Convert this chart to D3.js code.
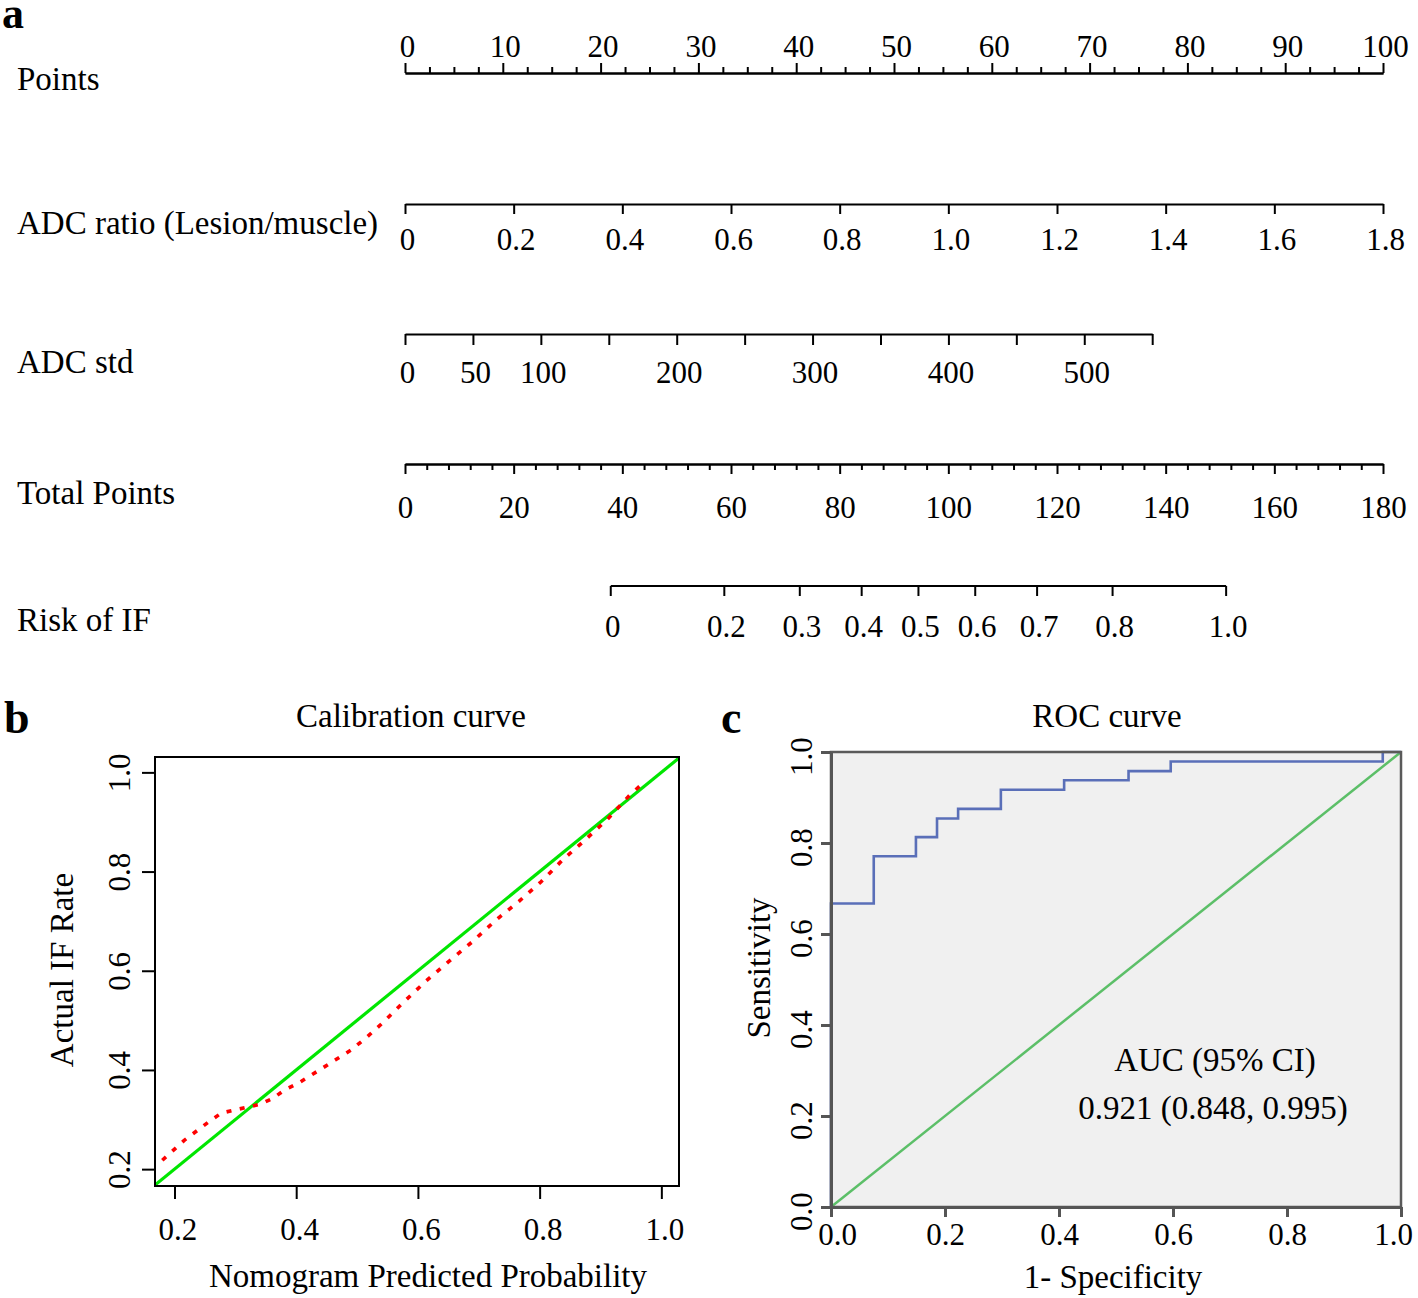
<!DOCTYPE html>
<html><head><meta charset="utf-8">
<script src="https://cdn.jsdelivr.net/npm/d3@7"></script>
<style>
body{margin:0;background:#fff}
svg{display:block}
text{font-family:"Liberation Serif","DejaVu Serif",serif;fill:#000}
</style>
</head><body>
<svg id="c" width="1418" height="1298"></svg>
<script>
// ---------------- DATA ----------------
const rowNames = ["Points", "ADC ratio (Lesion/muscle)", "ADC std", "Total Points", "Risk of IF"];

const pointsTicks = [0, 10, 20, 30, 40, 50, 60, 70, 80, 90, 100];
const pointsMinorStep = 2.5;

const adcRatioTicks = [0, 0.2, 0.4, 0.6, 0.8, 1.0, 1.2, 1.4, 1.6, 1.8];
const adcRatioLabels = ["0", "0.2", "0.4", "0.6", "0.8", "1.0", "1.2", "1.4", "1.6", "1.8"];
const adcRatioMaxPoints = 100;   // points at ADC ratio = 1.8

const adcStdTicks = [0, 50, 100, 150, 200, 250, 300, 350, 400, 450, 500, 550];
const adcStdLabels = ["0", "50", "100", "", "200", "", "300", "", "400", "", "500", ""];
const adcStdMaxPoints = 76.4;    // points at ADC std = 550

const totalTicks = [0, 20, 40, 60, 80, 100, 120, 140, 160, 180];
const totalMinorStep = 4;

const riskTicks = [0.1, 0.2, 0.3, 0.4, 0.5, 0.6, 0.7, 0.8, 0.9];
const riskLabels = ["0", "0.2", "0.3", "0.4", "0.5", "0.6", "0.7", "0.8", "1.0"];
const riskMidTotal = 94.5;       // total points where risk = 0.5
const riskSlope = 0.0388;        // logit per total point

// calibration curve (red dotted)
const calPred = [0.180, 0.216, 0.256, 0.277, 0.298, 0.320, 0.341, 0.362, 0.380, 0.403, 0.441, 0.464, 0.490, 0.515, 0.543, 0.575, 0.613, 0.649, 0.689, 0.728, 0.766, 0.802, 0.839, 0.874, 0.911, 0.948, 0.966];
const calObs  = [0.218, 0.258, 0.295, 0.313, 0.319, 0.325, 0.331, 0.343, 0.359, 0.373, 0.402, 0.420, 0.440, 0.465, 0.496, 0.535, 0.579, 0.617, 0.658, 0.702, 0.740, 0.779, 0.825, 0.863, 0.905, 0.954, 0.974];
const calTicks = [0.2, 0.4, 0.6, 0.8, 1.0];
const calDomain = [0.168, 1.029];

// ROC curve
const rocFpr = [0, 0, 0.075, 0.149, 0.186, 0.223, 0.298, 0.409, 0.522, 0.596, 0.968, 1.0];
const rocTpr = [0, 0.667, 0.771, 0.813, 0.854, 0.875, 0.917, 0.938, 0.958, 0.979, 1.0, 1.0];
const rocTicks = [0, 0.2, 0.4, 0.6, 0.8, 1.0];
const aucText = ["AUC (95% CI)", "0.921 (0.848, 0.995)"];

// ---------------- DRAW ----------------
const svg = d3.select("#c");
const NUM = 31, TXT = 33;
const fmt1 = d3.format(".1f");

function styleAxis(g, w) {
  g.selectAll("path.domain").attr("stroke", "#000").attr("stroke-width", w);
  g.selectAll(".tick line").attr("stroke", "#000").attr("stroke-width", w);
  g.selectAll(".tick text").style("font-size", NUM + "px").attr("fill", "#000")
    .style("font-family", '"Liberation Serif","DejaVu Serif",serif');
}

// Panel a: nomogram
const xPts = d3.scaleLinear().domain([0, 100]).range([405, 1383]);
const xTot = d3.scaleLinear().domain([0, 180]).range([405, 1383]);
const xRatio = d3.scaleLinear().domain([0, 1.8]).range([xPts(0), xPts(adcRatioMaxPoints)]);
const xStd = d3.scaleLinear().domain([0, 550]).range([xPts(0), xPts(adcStdMaxPoints)]);
const riskToX = p => xTot(riskMidTotal + Math.log(p / (1 - p)) / riskSlope);

svg.append("text").attr("x", 2).attr("y", 28).style("font-size", "44px").style("font-weight", "bold").text("a");

const rowBase = [90, 234, 373, 504, 631];
rowNames.forEach((n, i) => {
  svg.append("text").attr("x", 17).attr("y", rowBase[i]).style("font-size", TXT + "px").text(n);
});

// Points (ticks up, labels above)
{
  const yL = 73;
  const minor = d3.range(0, 100.001, pointsMinorStep).filter(v => pointsTicks.indexOf(v) < 0);
  const gMin = svg.append("g").attr("transform", `translate(0,${yL})`)
    .call(d3.axisTop(xPts).tickValues(minor).tickSize(6).tickSizeOuter(0).tickFormat(""));
  styleAxis(gMin, 2);
  const g = svg.append("g").attr("transform", `translate(0,${yL})`)
    .call(d3.axisTop(xPts).tickValues(pointsTicks).tickSize(10).tickSizeOuter(0).tickFormat(d3.format("d")));
  styleAxis(g, 2);
  g.selectAll(".tick text").attr("y", -16).attr("dy", null).attr("x", 2);
}
// ADC ratio
{
  const yL = 204;
  const g = svg.append("g").attr("transform", `translate(0,${yL})`)
    .call(d3.axisBottom(xRatio).tickValues(adcRatioTicks).tickSize(10).tickSizeOuter(0)
      .tickFormat((d, i) => adcRatioLabels[i]));
  styleAxis(g, 2);
  g.selectAll(".tick text").attr("y", 46).attr("dy", null).attr("x", 2);
}
// ADC std
{
  const yL = 334;
  const g = svg.append("g").attr("transform", `translate(0,${yL})`)
    .call(d3.axisBottom(xStd).tickValues(adcStdTicks).tickSize(11).tickSizeOuter(0)
      .tickFormat((d, i) => adcStdLabels[i]));
  styleAxis(g, 2);
  g.selectAll(".tick text").attr("y", 49).attr("dy", null).attr("x", 2);
}
// Total points
{
  const yL = 464;
  const minor = d3.range(0, 180.001, totalMinorStep).filter(v => totalTicks.indexOf(v) < 0);
  const gMin = svg.append("g").attr("transform", `translate(0,${yL})`)
    .call(d3.axisBottom(xTot).tickValues(minor).tickSize(6).tickSizeOuter(0).tickFormat(""));
  styleAxis(gMin, 2);
  const g = svg.append("g").attr("transform", `translate(0,${yL})`)
    .call(d3.axisBottom(xTot).tickValues(totalTicks).tickSize(10).tickSizeOuter(0).tickFormat(d3.format("d")));
  styleAxis(g, 2);
  g.selectAll(".tick text").attr("y", 54).attr("dy", null);
}
// Risk of IF
{
  const yL = 586;
  const g = svg.append("g").attr("transform", `translate(0,${yL})`);
  g.append("line").attr("x1", riskToX(riskTicks[0])).attr("x2", riskToX(riskTicks[riskTicks.length - 1]))
    .attr("stroke", "#000").attr("stroke-width", 2);
  const t = g.selectAll("g.t").data(riskTicks).join("g").attr("class", "t")
    .attr("transform", d => `translate(${riskToX(d)},0)`);
  t.append("line").attr("y2", 10).attr("stroke", "#000").attr("stroke-width", 2);
  t.append("text").attr("y", 51).attr("x", 2).attr("text-anchor", "middle").style("font-size", NUM + "px")
    .text((d, i) => riskLabels[i]);
}

// Panel b: calibration
{
  const L = 155, R = 679, T = 757, B = 1186;
  const x = d3.scaleLinear().domain(calDomain).range([L, R]);
  const y = d3.scaleLinear().domain([0.166, 1.031]).range([B, T]);
  svg.append("text").attr("x", 4).attr("y", 733).style("font-size", "46px").style("font-weight", "bold").text("b");
  svg.append("text").attr("x", 411).attr("y", 727).attr("text-anchor", "middle").style("font-size", TXT + "px").text("Calibration curve");
  svg.append("defs").append("clipPath").attr("id", "clipCal").append("rect")
    .attr("x", L).attr("y", T).attr("width", R - L).attr("height", B - T);
  svg.append("rect").attr("x", L).attr("y", T).attr("width", R - L).attr("height", B - T)
    .attr("fill", "#fff");
  // ideal line
  svg.append("line").attr("clip-path", "url(#clipCal)")
    .attr("x1", x(calDomain[0])).attr("y1", y(calDomain[0])).attr("x2", x(calDomain[1])).attr("y2", y(calDomain[1]))
    .attr("stroke", "#00e600").attr("stroke-width", 3.2);
  svg.append("path").datum(d3.zip(calPred, calObs))
    .attr("d", d3.line().x(d => x(d[0])).y(d => y(d[1])))
    .attr("fill", "none").attr("stroke", "#ff0000").attr("stroke-width", 3.6)
    .attr("stroke-dasharray", "5,8.5");
  svg.append("rect").attr("x", L).attr("y", T).attr("width", R - L).attr("height", B - T)
    .attr("fill", "none").attr("stroke", "#000").attr("stroke-width", 2);
  const gx = svg.append("g").attr("transform", `translate(0,${B})`)
    .call(d3.axisBottom(x).tickValues(calTicks).tickSize(13).tickSizeOuter(0).tickFormat(fmt1));
  styleAxis(gx, 2);
  gx.select("path.domain").remove();
  gx.selectAll(".tick text").attr("y", 54).attr("dy", null).attr("x", 3);
  const gy = svg.append("g").attr("transform", `translate(${L},0)`)
    .call(d3.axisLeft(y).tickValues(calTicks).tickSize(13).tickSizeOuter(0).tickFormat(fmt1));
  styleAxis(gy, 2);
  gy.select("path.domain").remove();
  gy.selectAll(".tick text").attr("x", null).attr("dy", null)
    .attr("transform", "translate(-25,0) rotate(-90)").attr("text-anchor", "middle").attr("y", 0);
  svg.append("text").attr("x", 428).attr("y", 1287).attr("text-anchor", "middle").style("font-size", TXT + "px")
    .text("Nomogram Predicted Probability");
  svg.append("text").attr("transform", "translate(73,970) rotate(-90)").attr("text-anchor", "middle")
    .style("font-size", TXT + "px").text("Actual IF Rate");
}

// Panel c: ROC
{
  const L = 831, R = 1401, T = 752, B = 1207;
  const x = d3.scaleLinear().domain([0, 1]).range([L, R]);
  const y = d3.scaleLinear().domain([0, 1]).range([B, T]);
  svg.append("text").attr("x", 721).attr("y", 733).style("font-size", "46px").style("font-weight", "bold").text("c");
  svg.append("text").attr("x", 1107).attr("y", 727).attr("text-anchor", "middle").style("font-size", TXT + "px").text("ROC curve");
  svg.append("rect").attr("x", L).attr("y", T).attr("width", R - L).attr("height", B - T)
    .attr("fill", "#f0f0f0");
  svg.append("line").attr("x1", x(0)).attr("y1", y(0)).attr("x2", x(1)).attr("y2", y(1))
    .attr("stroke", "#5cbf68").attr("stroke-width", 2.5);
  svg.append("path").datum(d3.zip(rocFpr, rocTpr))
    .attr("d", d3.line().curve(d3.curveStepAfter).x(d => x(d[0])).y(d => y(d[1])))
    .attr("fill", "none").attr("stroke", "#5a6fb8").attr("stroke-width", 2.6);
  svg.append("rect").attr("x", L).attr("y", T).attr("width", R - L).attr("height", B - T)
    .attr("fill", "none").attr("stroke", "#5a5a5a").attr("stroke-width", 2.5);
  const gx = svg.append("g").attr("transform", `translate(0,${B})`)
    .call(d3.axisBottom(x).tickValues(rocTicks).tickSize(10).tickSizeOuter(0).tickFormat(fmt1));
  styleAxis(gx, 3);
  gx.selectAll("path.domain, .tick line").attr("stroke", "#555");
  gx.selectAll(".tick text").attr("y", 38).attr("dy", null)
    .attr("x", d => d === 0 ? 6 : (d === 1 ? -8 : 0));
  const gy = svg.append("g").attr("transform", `translate(${L},0)`)
    .call(d3.axisLeft(y).tickValues(rocTicks).tickSize(10).tickSizeOuter(0).tickFormat(fmt1));
  styleAxis(gy, 3);
  gy.selectAll("path.domain, .tick line").attr("stroke", "#555");
  gy.selectAll(".tick text").attr("x", null).attr("dy", null)
    .attr("transform", "translate(-19,4) rotate(-90)").attr("text-anchor", "middle").attr("y", 0);
  svg.append("text").attr("x", 1215).attr("y", 1071).attr("text-anchor", "middle").style("font-size", TXT + "px").text(aucText[0]);
  svg.append("text").attr("x", 1213).attr("y", 1119).attr("text-anchor", "middle").style("font-size", TXT + "px").text(aucText[1]);
  svg.append("text").attr("x", 1113).attr("y", 1288).attr("text-anchor", "middle").style("font-size", TXT + "px").text("1- Specificity");
  svg.append("text").attr("transform", "translate(770,968) rotate(-90)").attr("text-anchor", "middle")
    .style("font-size", TXT + "px").text("Sensitivity");
}
</script>
</body></html>
